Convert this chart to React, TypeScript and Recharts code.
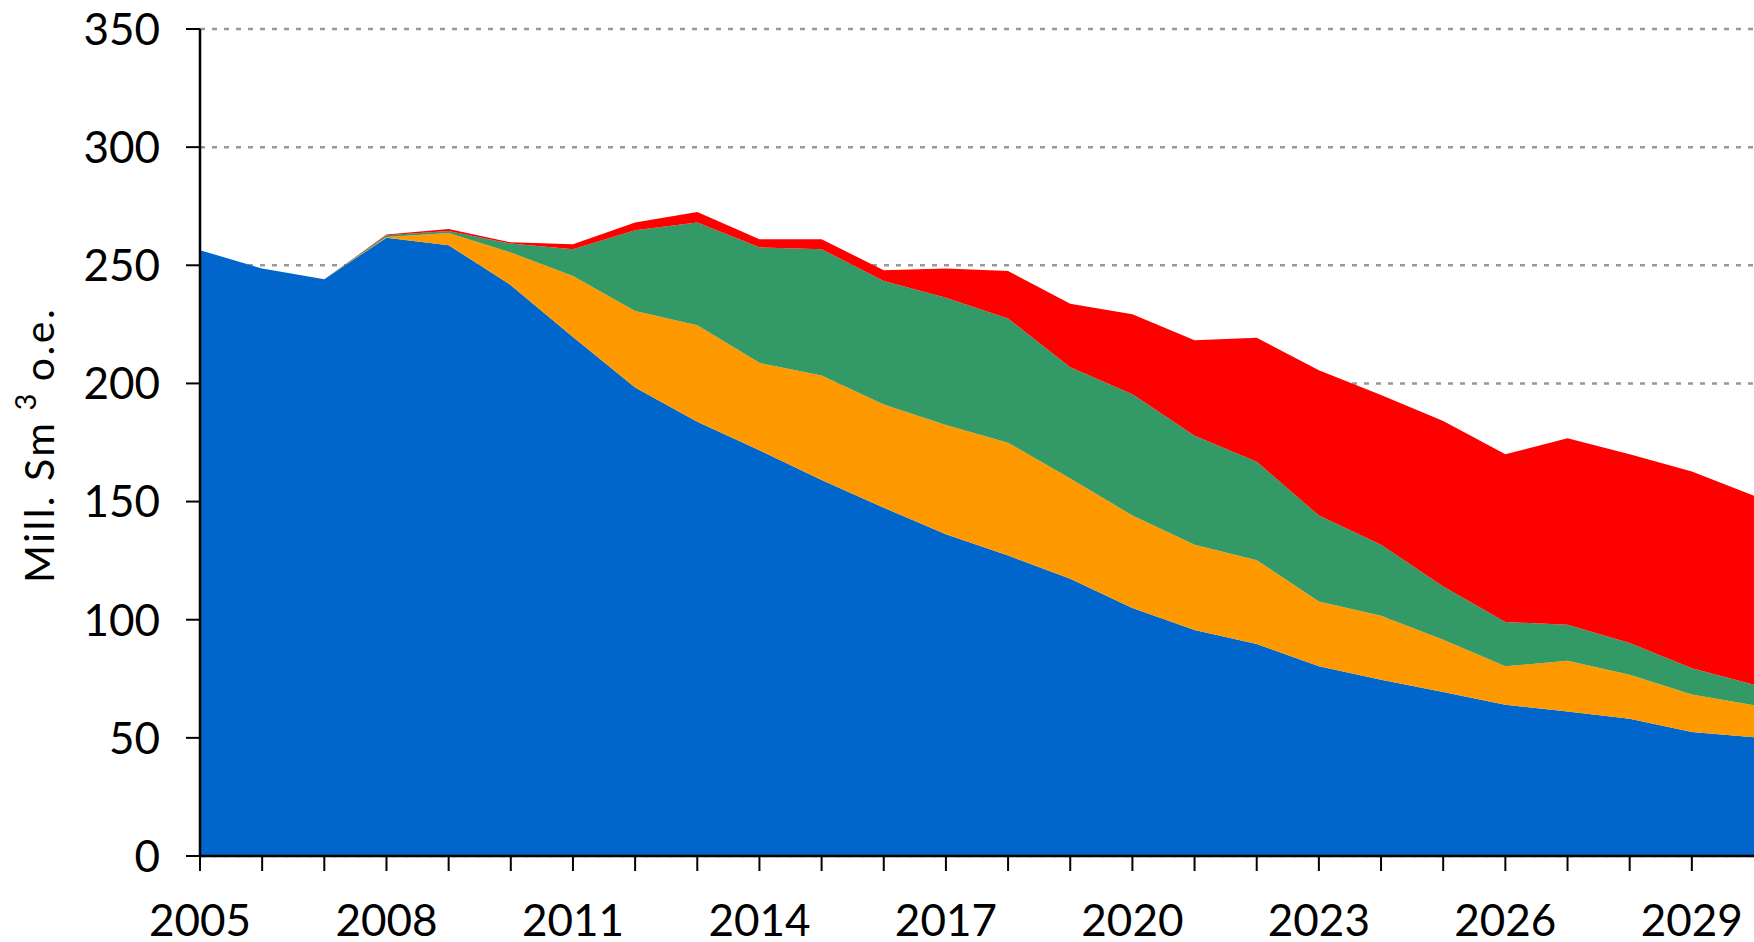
import React from 'react';
import { AreaChart, Area, XAxis, YAxis, CartesianGrid } from 'recharts';

const years = [2005, 2006, 2007, 2008, 2009, 2010, 2011, 2012, 2013, 2014, 2015, 2016, 2017, 2018, 2019, 2020, 2021, 2022, 2023, 2024, 2025, 2026, 2027, 2028, 2029, 2030];
const blueSeries = [256.4, 248.6, 244.1, 261.7, 258.5, 241.6, 219.7, 198.3, 183.8, 171.7, 159.1, 147.4, 136.2, 127.2, 117.3, 105.0, 95.7, 89.7, 80.3, 74.6, 69.4, 64.0, 61.2, 58.1, 52.5, 50.3];
const orangeSeries = [0, 0, 0, 0.3, 5.2, 13.8, 25.8, 32.4, 40.8, 37.0, 44.3, 43.7, 46.2, 47.7, 42.5, 39.1, 36.0, 35.5, 27.4, 27.1, 22.1, 16.3, 21.4, 18.6, 15.8, 13.5];
const greenSeries = [0, 0, 0, 0.7, 0.8, 3.8, 11.3, 34.1, 43.5, 48.9, 53.4, 52.3, 53.9, 52.6, 47.1, 51.3, 46.2, 41.7, 36.4, 30.0, 22.6, 18.7, 15.3, 13.4, 11.2, 8.7];
const redSeries = [0, 0, 0, 0.3, 0.9, 0.5, 2.1, 3.3, 4.5, 3.4, 4.2, 4.5, 12.3, 20.1, 26.8, 33.9, 40.4, 52.4, 61.5, 63.4, 70.0, 71.0, 78.9, 79.9, 83.2, 80.0];
const yTicks = [0, 50, 100, 150, 200, 250, 300, 350];
const xTicks = [2005, 2006, 2007, 2008, 2009, 2010, 2011, 2012, 2013, 2014, 2015, 2016, 2017, 2018, 2019, 2020, 2021, 2022, 2023, 2024, 2025, 2026, 2027, 2028, 2029];
const labelYears = [2005, 2008, 2011, 2014, 2017, 2020, 2023, 2026, 2029];

const data = years.map((year, i) => ({
  year,
  blue: blueSeries[i],
  orange: orangeSeries[i],
  green: greenSeries[i],
  red: redSeries[i],
}));

const FONT = 'Lato, "Liberation Sans", Arial, sans-serif';

const YTick = (props: any) => {
  const { x, y, payload } = props;
  return (
    <text x={x} y={y} dy="0.36em" textAnchor="end" fontFamily={FONT} fontSize={44} fill="#000">
      {payload.value}
    </text>
  );
};

const XTick = (props: any) => {
  const { x, y, payload } = props;
  if (!labelYears.includes(payload.value)) return null;
  return (
    <text x={x} y={y + 65} textAnchor="middle" fontFamily={FONT} fontSize={44} fill="#000">
      {payload.value}
    </text>
  );
};

const YLabel = () => (
  <text
    x={54}
    y={445}
    transform="rotate(-90, 54, 445)"
    textAnchor="middle"
    fontFamily={FONT}
    fontSize={41}
    letterSpacing={2.5}
    fill="#000"
  >
    Mill.  Sm
    <tspan dx={10} dy={-18} fontSize={29}>3</tspan>
    <tspan dx={10} dy={18}>o.e.</tspan>
  </text>
);

export default function App() {
  return (
    <div style={{ position: 'absolute', left: 0, top: 0, width: 1754, height: 942, overflow: 'hidden', background: '#fff' }}>
      <AreaChart width={1754} height={942} data={data} margin={{ top: 29, right: 0, bottom: 0, left: 0 }}>
        <CartesianGrid horizontal vertical={false} stroke="#999" strokeWidth={2.5} strokeDasharray="5 7" />
        <Area type="linear" dataKey="blue" stackId="s" stroke="none" fill="#0066CC" fillOpacity={1} isAnimationActive={false} />
        <Area type="linear" dataKey="orange" stackId="s" stroke="none" fill="#FF9900" fillOpacity={1} isAnimationActive={false} />
        <Area type="linear" dataKey="green" stackId="s" stroke="none" fill="#339966" fillOpacity={1} isAnimationActive={false} />
        <Area type="linear" dataKey="red" stackId="s" stroke="none" fill="#FF0000" fillOpacity={1} isAnimationActive={false} />
        <XAxis
          dataKey="year"
          type="number"
          domain={[2005, 2030]}
          ticks={xTicks}
          interval={0}
          height={86}
          tickSize={15}
          tickMargin={0}
          axisLine={{ stroke: '#000', strokeWidth: 2.5 }}
          tickLine={{ stroke: '#000', strokeWidth: 2 }}
          tick={<XTick />}
        />
        <YAxis
          type="number"
          domain={[0, 350]}
          ticks={yTicks}
          interval={0}
          width={200}
          tickSize={14}
          tickMargin={26}
          axisLine={{ stroke: '#000', strokeWidth: 2.5 }}
          tickLine={{ stroke: '#000', strokeWidth: 2 }}
          tick={<YTick />}
          label={<YLabel />}
        />
      </AreaChart>
    </div>
  );
}
